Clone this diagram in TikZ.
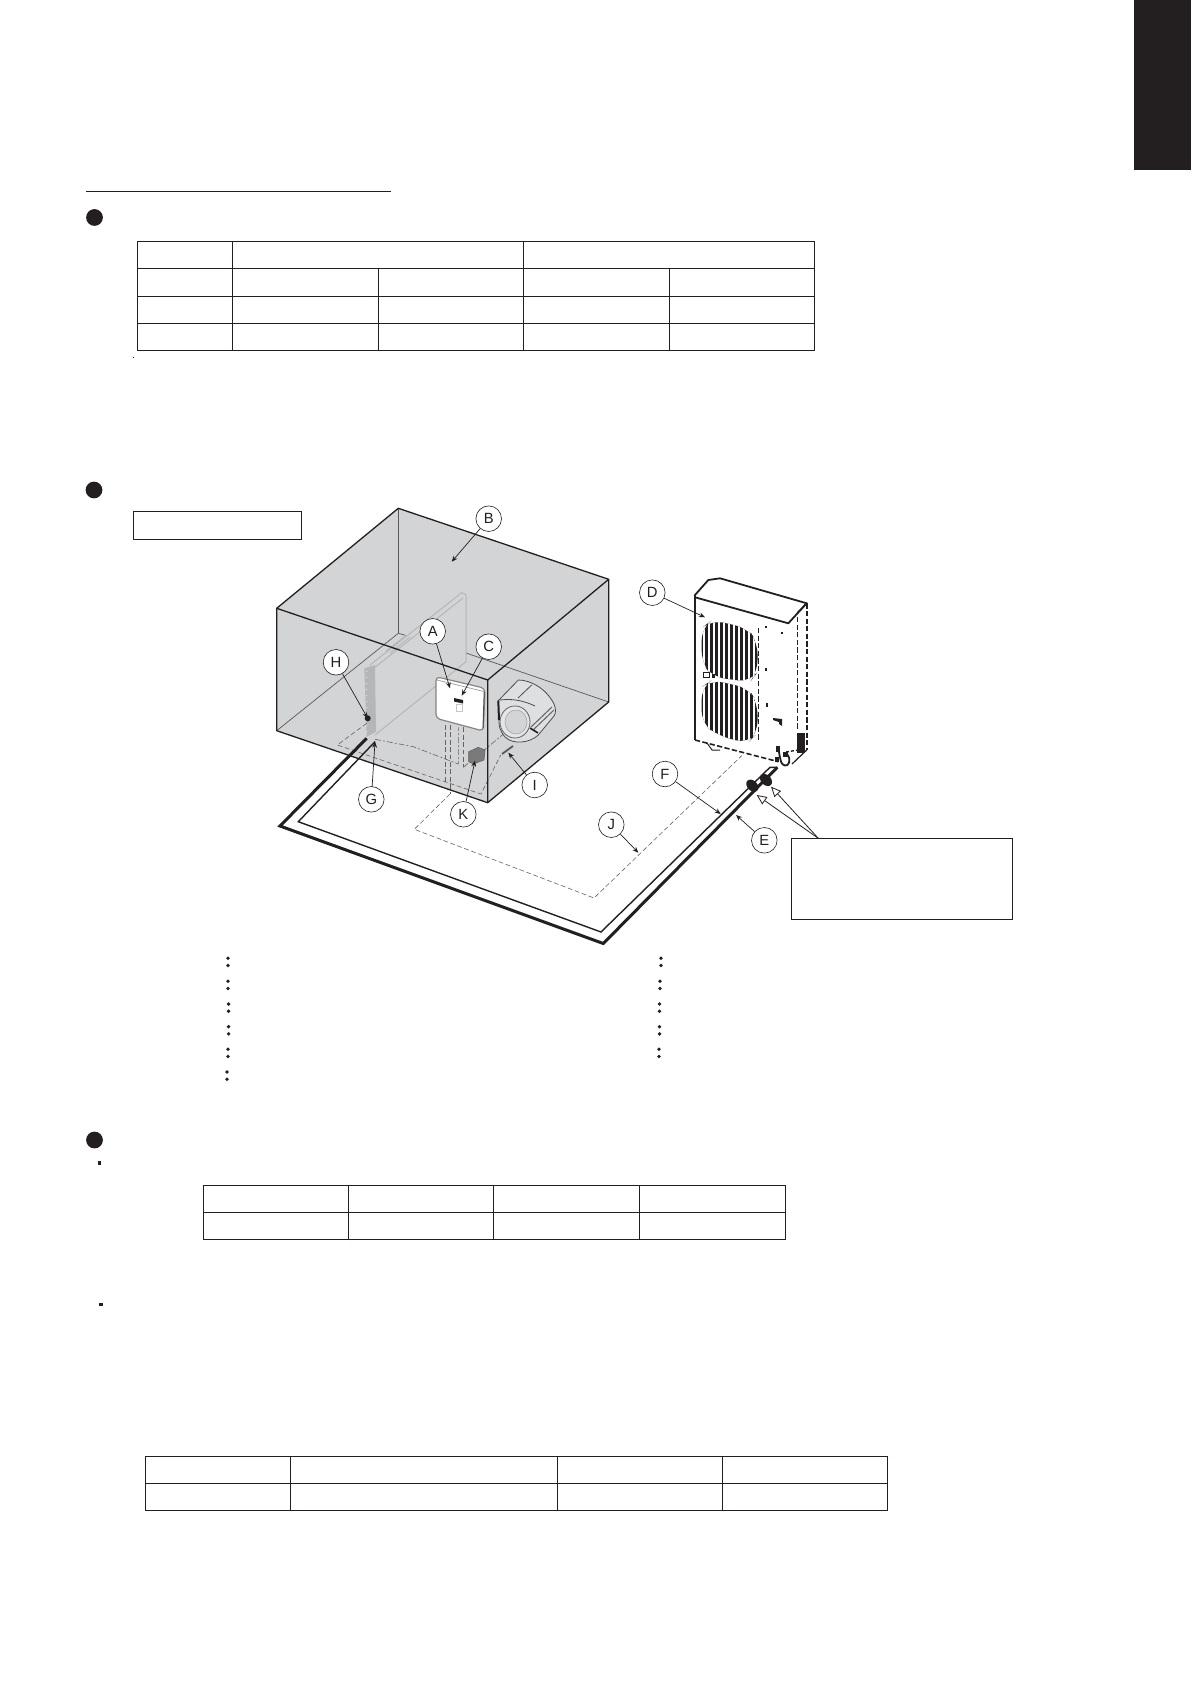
\documentclass[tikz,border=0pt]{standalone}
\usepackage{fontspec}
\setmainfont{Liberation Sans}
\usetikzlibrary{arrows.meta}
\definecolor{ink}{HTML}{231F20}
\definecolor{wallgray}{HTML}{D2D4D6}
\definecolor{platelin}{HTML}{B4B6B8}
\tikzset{
  x=0.5pt,y=-0.5pt,
  tbl/.style={draw=ink,line width=0.5pt},
  edge3d/.style={draw=ink,line width=0.65pt,line join=round},
  thinedge/.style={draw=ink!75,line width=0.35pt},
  plate/.style={draw=platelin,line width=0.5pt},
  dashline/.style={draw=ink!70,line width=0.3pt,dash pattern=on 2.4pt off 1.3pt},
  dashdotline/.style={draw=ink!70,line width=0.3pt,dash pattern=on 3pt off 1pt on 1pt off 1pt},
  tag/.style={circle,draw=ink,fill=white,line width=0.3pt,inner sep=0pt,minimum size=12.8pt,font=\fontsize{7.4}{8}\selectfont,text=ink},
  pointer/.style={draw=ink,line width=0.35pt,-{Stealth[length=3pt,width=2.4pt]}},
  hollow/.style={draw=ink,line width=0.4pt,-{Triangle[open,fill=white,length=5pt,width=4.4pt]}},
  unitline/.style={draw=ink,line width=0.9pt},
  unitdash/.style={draw=ink,line width=0.8pt,dash pattern=on 2.6pt off 1.2pt},
  dotmark/.style={circle,fill=ink,inner sep=0pt,minimum size=1.9pt},
  bigdot/.style={circle,fill=ink,inner sep=0pt,minimum size=8.4pt},
  emptybox/.style={draw=ink,line width=0.5pt,fill=white,inner sep=0pt},
}
\begin{document}
\begin{tikzpicture}
\useasboundingbox (0,0) rectangle (1191,1684);
% page furniture
\fill[ink] (1134,0) rectangle (1191,170);
\draw[ink,line width=0.5pt] (86,191.3) -- (391,191.3);
\node[bigdot] (b1) at (94.5,217.5) {};
\node[bigdot] (b2) at (94,490) {};
\node[bigdot] (b3) at (94.5,1140) {};
\fill[ink] (133,357) rectangle (134,358.5);
\fill[ink] (98,1161) rectangle (101,1165);
\fill[ink] (98.5,1302.5) rectangle (102.5,1306);
% table 1
\draw[tbl] (137.3,241.3) rectangle (814,350.3);
\draw[tbl] (137.3,268.3) -- (814,268.3) (137.3,296.3) -- (814,296.3) (137.3,323.3) -- (814,323.3);
\draw[tbl] (232.3,241.3) -- (232.3,350.3) (523.5,241.3) -- (523.5,350.3);
\draw[tbl] (378.3,268.3) -- (378.3,350.3) (669,268.3) -- (669,350.3);
% table 2
\draw[tbl] (203,1185.7) rectangle (785,1239.3);
\draw[tbl] (203,1212.3) -- (785,1212.3);
\draw[tbl] (348.5,1185.7) -- (348.5,1239.3) (493.5,1185.7) -- (493.5,1239.3) (639,1185.7) -- (639,1239.3);
% table 3
\draw[tbl] (145,1456) rectangle (887,1510.3);
\draw[tbl] (145,1483.3) -- (887,1483.3);
\draw[tbl] (290,1456) -- (290,1510.3) (557,1456) -- (557,1510.3) (722,1456) -- (722,1510.3);
% colons
\foreach \y/\xa in {958.3/228,981.3/228,1004/228.6,1026.7/228.6,1049.3/228,1072/227}{
  \node[dotmark] at (\xa,\y) {};
  \node[dotmark] at (\xa,\y+7.2) {};
}
\foreach \y/\xa in {958.3/661,981.3/660,1004/659.5,1026.7/659.5,1049.3/659}{
  \node[dotmark] at (\xa,\y) {};
  \node[dotmark] at (\xa,\y+7.2) {};
}
% small caption box
\node[emptybox,minimum width=84pt,minimum height=14pt] (capbox) at (217.6,525) {};

% ---------- room box ----------
\fill[wallgray] (398.3,508.3) -- (608.7,579.3) -- (608.7,702) -- (487.7,802.7) -- (276.7,730.7) -- (276.7,608.3) -- cycle;
\draw[thinedge] (398.3,508.3) -- (398.3,633.3);
\draw[thinedge] (398.3,633.3) -- (276.7,730.7);
\draw[thinedge] (398.3,633.3) -- (406,635.5);
\draw[thinedge] (466,653) -- (608.7,702);
% evaporator plate
\draw[plate] (370,665) -- (461.7,592.7) -- (466,595) -- (466,661.7) -- (375,735);
\draw[plate] (374,668) -- (463,598);
\draw[plate] (406,635.5) -- (386,651);
\draw[plate] (410,637) -- (390,653);
% coil
\fill[platelin] (364.3,668.3) -- (375,665) -- (376,731.7) -- (366.7,736.7) -- cycle;
\foreach \yy in {672,678,...,732}{
  \draw[wallgray,line width=0.5pt,dash pattern=on 1pt off 1.5pt] (365.5,\yy) -- (370,\yy-2);
}
% dashed circuits inside
\draw[dashline] (366.7,723.3) -- (337.3,745) -- (481,794) -- (500.7,755);
\draw[dashdotline] (375,739.3) -- (413.3,746.7) -- (458.3,764) -- (458.3,727.3);
\draw[dashline] (445,725) -- (445,783.3);
\draw[dashline] (450,725) -- (450,794);
\draw[dashline] (463.3,727.3) -- (463.3,767.3);
\draw[dashdotline] (463.3,767.3) -- (518.3,721.7);
% box edges
\draw[edge3d] (276.7,608.3) -- (398.3,508.3) -- (608.7,579.3) -- (487.7,680) -- cycle;
\draw[edge3d] (276.7,608.3) -- (276.7,730.7) -- (487.7,802.7) -- (487.7,680);
\draw[edge3d] (608.7,579.3) -- (608.7,702) -- (487.7,802.7);
% control panel
\draw[fill=white,draw=ink!55,line width=0.6pt,rounded corners=2pt] (436,676.7) -- (485,688.3) -- (483.3,731) -- (436,718.3) -- cycle;
\draw[ink!45,line width=0.35pt] (437,680) -- (484,691.5);
\draw[ink!80,line width=0.5pt] (484.2,692) -- (483,728);
\fill[ink] (454,698) -- (463,700) -- (463,703.5) -- (454,701.5) -- cycle;
\draw[ink!25,line width=0.3pt] (456,704) rectangle (462,711);
% K box
\draw[fill=ink!60,draw=ink!70,line width=0.3pt] (468.7,751.7) -- (478.3,747.3) -- (485,750) -- (484,760) -- (473.3,764) -- (468.7,761.7) -- cycle;
% I mark
\draw[ink!75,line width=0.9pt] (502,754) -- (513,746);
% blower
\draw[fill=wallgray!75,draw=ink!80,line width=0.4pt]
  (498.3,700.7) -- (518.3,680) .. controls (530,680) and (546,688) .. (554,704)
  .. controls (556,709) and (556,713) .. (554,716) -- (538.3,735)
  .. controls (530,743) and (513,745) .. (505,737) .. controls (500,731) and (499,726) .. (499,722) -- cycle;
\draw[ink!80,line width=0.4pt] (518,698) -- (531.7,685);
\draw[ink!80,line width=0.4pt] (500,700) .. controls (510,699) and (520,699) .. (535,706);
\draw[fill=wallgray!60,draw=ink!70,line width=0.4pt] (515,722) ellipse (15 and 16);
\draw[draw=ink!40,fill=wallgray,line width=0.3pt] (516,722) ellipse (11 and 12);
\draw[ink,line width=1pt] (498.3,700.7) -- (499,720);
\draw[ink!70,line width=0.5pt] (533,730) -- (554,710) (531,727) -- (552,707);
\draw[ink,line width=0.8pt] (530,728) -- (538,733);

% ---------- piping ----------
\coordinate (pipeA) at (366.7,738.3);
\coordinate (pipeB) at (280,826);
\coordinate (pipeC) at (603.3,943.5);
\coordinate (pipeD) at (777.3,767.3);
\coordinate (pipeE) at (375,741.7);
\coordinate (pipeF) at (298.3,821.7);
\coordinate (pipeG) at (601,932);
\coordinate (pipeH) at (770,767.3);
\draw[ink,line width=1.5pt,line join=miter] (pipeA) -- (pipeB) -- (pipeC) -- (pipeD);
\draw[ink,line width=0.7pt,line join=miter] (pipeE) -- (pipeF) -- (pipeG) -- (pipeH) -- (pipeD);
% J circuit
\draw[dashline] (450,794) -- (414.3,829.3) -- (594,898) -- (741.7,755.7);
% insulators
\fill[ink,rotate around={-45:(752.3,785.7)}] (752.3,785.7) ellipse (7 and 5);
\fill[ink,rotate around={-45:(766,780)}] (766,780) ellipse (7 and 5);

% ---------- outdoor unit ----------
\draw[unitline,fill=white,line join=round] (695,595) -- (708.3,580) -- (720,578.3) -- (806.7,603.3) -- (788.3,623.3) -- (695,597.3) -- cycle;
\draw[unitline] (695,597.3) -- (695,740);
\draw[ink,line width=0.8pt] (806.7,603.3) -- (797.3,613);
\draw[unitdash] (695,740) -- (778.3,761.7);
\draw[unitdash] (806.7,603.3) -- (806.7,750);
\draw[unitdash,line width=0.7pt] (797.3,617) -- (797.3,730);
\draw[ink,line width=0.6pt] (806.7,750) -- (792,764);
\draw[ink,line width=0.5pt] (707,743) -- (712,750) -- (720,750);
% grills
\begin{scope}
  \clip[rounded corners=6pt] (701.7,628) -- (712,620) -- (747,628) -- (757.5,642) -- (757.5,672) -- (750,682) -- (713,677) -- (701.7,663) -- cycle;
  \fill[ink] (695,610) rectangle (765,690);
  \foreach \xx in {701,706,...,761}{\draw[white,line width=0.65pt] (\xx+3,610) -- (\xx+3,690);}
\end{scope}
\begin{scope}
  \clip[rounded corners=6pt] (701.7,687) -- (712,680) -- (748,688) -- (757.5,703) -- (757.5,733) -- (747,743.5) -- (717,735) -- (701.7,723) -- cycle;
  \fill[ink] (695,675) rectangle (765,750);
  \foreach \xx in {701,706,...,761}{\draw[white,line width=0.65pt] (\xx+3,675) -- (\xx+3,750);}
\end{scope}
\draw[unitdash,line width=0.6pt] (758.5,628) -- (758.5,740);
% unit specks
\draw[ink,line width=0.5pt] (703.5,672) rectangle (709,677);
\fill[ink] (712,674) rectangle (715,678);
\fill[ink] (765,626) rectangle (767,628);
\fill[ink] (781,632) rectangle (783,634);
\fill[ink] (765,668) rectangle (767,671);
\fill[ink] (766,703) rectangle (768,707);
\fill[ink] (773,718) -- (782,719) -- (782,726) -- (779,724) -- (779,722) -- (773,720) -- cycle;
% lower-right fittings
\fill[ink] (797.3,733.3) rectangle (805,753.3);
\fill[ink] (776,746) rectangle (780,752);
\fill[ink] (783,752) rectangle (788,757);
\fill[ink] (775,757) rectangle (779,762);
\draw[ink,line width=0.9pt,rounded corners=1.5pt] (779,752) -- (780,758) -- (782,765) -- (788,766) -- (790,758) -- (786,753);
\draw[ink,line width=0.7pt,dash pattern=on 1.5pt off 1pt] (786,752) -- (798,750);

% ---------- labels ----------
\node[tag] (A) at (432.7,631.3) {A};
\node[tag] (B) at (488.7,518.7) {B};
\node[tag] (C) at (488.7,646.7) {C};
\node[tag] (D) at (652.3,592.7) {D};
\node[tag] (E) at (764.3,840.3) {E};
\node[tag] (F) at (665,774) {F};
\node[tag] (G) at (371.3,799.3) {G};
\node[tag] (H) at (336,662.3) {H};
\node[tag] (I) at (534.7,785) {I};
\node[tag] (J) at (611.3,824.7) {J};
\node[tag] (K) at (463.3,814.3) {K};
\coordinate (tA) at (450,688.3);
\coordinate (tB) at (451.7,561.7);
\coordinate (tC) at (461.7,695.7);
\coordinate (tD) at (705,617.3);
\coordinate (tE) at (736,815);
\coordinate (tF) at (720.7,814);
\coordinate (tG) at (375,741.7);
\coordinate (tH) at (367.7,718.3);
\coordinate (tI) at (508.3,752.7);
\coordinate (tJ) at (638.3,852.7);
\coordinate (tK) at (475,760.7);
\foreach \n in {A,B,C,D,E,F,G,H,I,J,K}{\draw[pointer] (\n) -- (t\n);}
\fill[ink] (367.7,718.3) circle (3);
% callout
\node[emptybox,minimum width=110.7pt,minimum height=40.5pt] (callout) at (902,878.8) {};
\coordinate (calloutTop) at (818.3,838.3);
\coordinate (tipA) at (756.7,795);
\coordinate (tipB) at (771,786.7);
\draw[hollow] (calloutTop) -- (tipA);
\draw[hollow] (calloutTop) -- (tipB);
\end{tikzpicture}
\end{document}
